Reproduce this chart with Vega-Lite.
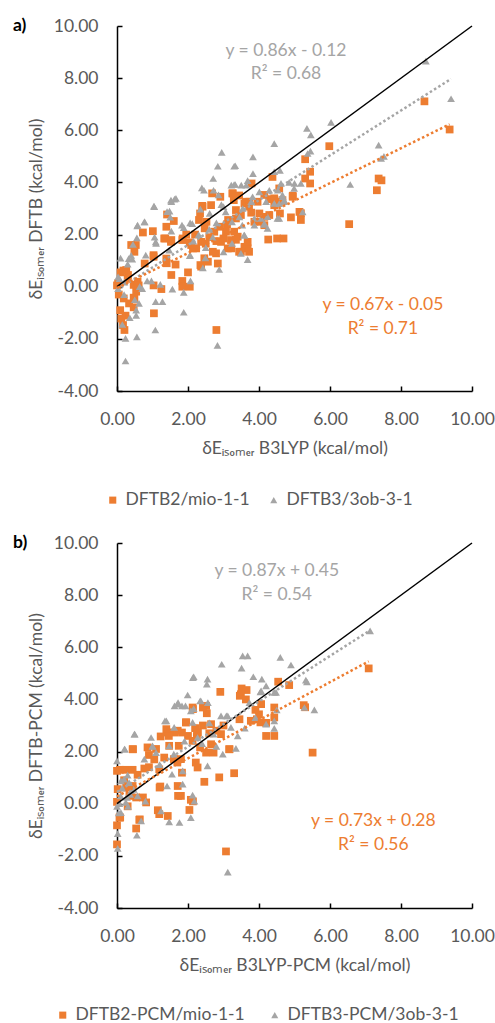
{
  "$schema": "https://vega.github.io/schema/vega-lite/v6.json",
  "padding": {"left": 12, "top": 17, "right": 0, "bottom": 0},
  "spacing": 25,
  "config": {
    "font": "Lato",
    "view": {"stroke": null},
    "axis": {
      "grid": false,
      "domainColor": "black",
      "domainWidth": 1.5,
      "tickColor": "black",
      "tickWidth": 1.5,
      "tickSize": -5,
      "labelFont": "Lato",
      "labelFontSize": 17.5,
      "labelColor": "#595959",
      "labelFlush": false,
      "labelOverlap": false,
      "titleFont": "Lato",
      "titleFontSize": 17.5,
      "titleFontWeight": "normal",
      "titleColor": "#595959"
    },
    "axisX": {"labelPadding": 24, "titlePadding": 12},
    "axisY": {"labelPadding": 24, "titlePadding": 8},
    "legend": {
      "title": null,
      "orient": "none",
      "direction": "horizontal",
      "labelFont": "Lato",
      "labelFontSize": 17.5,
      "labelColor": "#595959",
      "labelLimit": 0,
      "symbolSize": 50,
      "symbolStrokeWidth": 0,
      "labelOffset": 4
    }
  },
  "resolve": {
    "scale": {"color": "independent", "shape": "independent"},
    "legend": {"color": "independent", "shape": "independent"}
  },
  "datasets": {
    "a": [
      {"s":"DFTB2/mio-1-1","x":8.66,"y":7.11},{"s":"DFTB2/mio-1-1","x":9.37,"y":6.03},{"s":"DFTB2/mio-1-1","x":5.98,"y":5.39},{"s":"DFTB2/mio-1-1","x":5.30,"y":4.89},{"s":"DFTB2/mio-1-1","x":5.44,"y":4.41},{"s":"DFTB2/mio-1-1","x":5.30,"y":4.15},{"s":"DFTB2/mio-1-1","x":5.44,"y":3.96},{"s":"DFTB2/mio-1-1","x":7.37,"y":4.15},{"s":"DFTB2/mio-1-1","x":7.45,"y":4.08},{"s":"DFTB2/mio-1-1","x":7.32,"y":3.70},{"s":"DFTB2/mio-1-1","x":6.54,"y":2.40},{"s":"DFTB2/mio-1-1","x":4.38,"y":4.21},{"s":"DFTB2/mio-1-1","x":3.79,"y":3.96},{"s":"DFTB2/mio-1-1","x":3.26,"y":3.58},{"s":"DFTB2/mio-1-1","x":3.59,"y":3.19},{"s":"DFTB2/mio-1-1","x":3.73,"y":3.26},{"s":"DFTB2/mio-1-1","x":4.29,"y":3.36},{"s":"DFTB2/mio-1-1","x":4.43,"y":3.39},{"s":"DFTB2/mio-1-1","x":4.62,"y":3.26},{"s":"DFTB2/mio-1-1","x":4.95,"y":3.49},{"s":"DFTB2/mio-1-1","x":4.01,"y":2.81},{"s":"DFTB2/mio-1-1","x":4.15,"y":2.68},{"s":"DFTB2/mio-1-1","x":3.78,"y":2.84},{"s":"DFTB2/mio-1-1","x":4.59,"y":2.81},{"s":"DFTB2/mio-1-1","x":5.14,"y":2.87},{"s":"DFTB2/mio-1-1","x":4.90,"y":2.66},{"s":"DFTB2/mio-1-1","x":5.18,"y":2.56},{"s":"DFTB2/mio-1-1","x":4.06,"y":2.49},{"s":"DFTB2/mio-1-1","x":4.15,"y":2.36},{"s":"DFTB2/mio-1-1","x":4.26,"y":1.81},{"s":"DFTB2/mio-1-1","x":4.51,"y":1.85},{"s":"DFTB2/mio-1-1","x":4.69,"y":1.85},{"s":"DFTB2/mio-1-1","x":3.35,"y":2.62},{"s":"DFTB2/mio-1-1","x":3.40,"y":1.92},{"s":"DFTB2/mio-1-1","x":3.59,"y":1.53},{"s":"DFTB2/mio-1-1","x":3.68,"y":1.47},{"s":"DFTB2/mio-1-1","x":5.18,"y":2.82},{"s":"DFTB2/mio-1-1","x":4.95,"y":3.45},{"s":"DFTB2/mio-1-1","x":2.40,"y":3.10},{"s":"DFTB2/mio-1-1","x":2.31,"y":2.56},{"s":"DFTB2/mio-1-1","x":2.68,"y":3.58},{"s":"DFTB2/mio-1-1","x":2.91,"y":3.45},{"s":"DFTB2/mio-1-1","x":3.25,"y":3.58},{"s":"DFTB2/mio-1-1","x":3.29,"y":3.32},{"s":"DFTB2/mio-1-1","x":3.44,"y":3.50},{"s":"DFTB2/mio-1-1","x":2.47,"y":2.24},{"s":"DFTB2/mio-1-1","x":3.13,"y":2.56},{"s":"DFTB2/mio-1-1","x":1.85,"y":1.85},{"s":"DFTB2/mio-1-1","x":2.09,"y":1.60},{"s":"DFTB2/mio-1-1","x":2.23,"y":1.47},{"s":"DFTB2/mio-1-1","x":2.37,"y":1.72},{"s":"DFTB2/mio-1-1","x":2.41,"y":3.07},{"s":"DFTB2/mio-1-1","x":2.34,"y":2.81},{"s":"DFTB2/mio-1-1","x":2.52,"y":2.49},{"s":"DFTB2/mio-1-1","x":2.74,"y":2.11},{"s":"DFTB2/mio-1-1","x":2.79,"y":1.28},{"s":"DFTB2/mio-1-1","x":2.93,"y":1.72},{"s":"DFTB2/mio-1-1","x":3.07,"y":2.11},{"s":"DFTB2/mio-1-1","x":3.12,"y":1.47},{"s":"DFTB2/mio-1-1","x":3.35,"y":2.94},{"s":"DFTB2/mio-1-1","x":3.49,"y":2.75},{"s":"DFTB2/mio-1-1","x":3.63,"y":3.26},{"s":"DFTB2/mio-1-1","x":3.68,"y":1.72},{"s":"DFTB2/mio-1-1","x":3.72,"y":1.34},{"s":"DFTB2/mio-1-1","x":3.49,"y":1.34},{"s":"DFTB2/mio-1-1","x":3.72,"y":3.07},{"s":"DFTB2/mio-1-1","x":3.87,"y":2.49},{"s":"DFTB2/mio-1-1","x":3.96,"y":3.26},{"s":"DFTB2/mio-1-1","x":4.15,"y":3.52},{"s":"DFTB2/mio-1-1","x":4.29,"y":2.75},{"s":"DFTB2/mio-1-1","x":4.43,"y":3.13},{"s":"DFTB2/mio-1-1","x":4.57,"y":3.77},{"s":"DFTB2/mio-1-1","x":4.66,"y":3.32},{"s":"DFTB2/mio-1-1","x":3.21,"y":1.79},{"s":"DFTB2/mio-1-1","x":3.30,"y":2.11},{"s":"DFTB2/mio-1-1","x":2.46,"y":1.09},{"s":"DFTB2/mio-1-1","x":2.37,"y":0.77},{"s":"DFTB2/mio-1-1","x":2.56,"y":0.96},{"s":"DFTB2/mio-1-1","x":2.65,"y":3.13},{"s":"DFTB2/mio-1-1","x":2.84,"y":0.89},{"s":"DFTB2/mio-1-1","x":2.70,"y":1.34},{"s":"DFTB2/mio-1-1","x":3.22,"y":1.47},{"s":"DFTB2/mio-1-1","x":3.44,"y":1.34},{"s":"DFTB2/mio-1-1","x":2.14,"y":1.47},{"s":"DFTB2/mio-1-1","x":2.35,"y":0.83},{"s":"DFTB2/mio-1-1","x":2.60,"y":1.90},{"s":"DFTB2/mio-1-1","x":2.80,"y":1.75},{"s":"DFTB2/mio-1-1","x":3.00,"y":1.85},{"s":"DFTB2/mio-1-1","x":2.50,"y":1.65},{"s":"DFTB2/mio-1-1","x":2.90,"y":2.30},{"s":"DFTB2/mio-1-1","x":3.10,"y":2.40},{"s":"DFTB2/mio-1-1","x":3.35,"y":1.80},{"s":"DFTB2/mio-1-1","x":2.20,"y":2.00},{"s":"DFTB2/mio-1-1","x":2.05,"y":1.70},{"s":"DFTB2/mio-1-1","x":1.95,"y":2.00},{"s":"DFTB2/mio-1-1","x":0.53,"y":1.60},{"s":"DFTB2/mio-1-1","x":0.73,"y":2.08},{"s":"DFTB2/mio-1-1","x":1.01,"y":2.13},{"s":"DFTB2/mio-1-1","x":1.39,"y":2.30},{"s":"DFTB2/mio-1-1","x":1.60,"y":2.52},{"s":"DFTB2/mio-1-1","x":1.36,"y":1.85},{"s":"DFTB2/mio-1-1","x":1.53,"y":1.79},{"s":"DFTB2/mio-1-1","x":1.84,"y":1.79},{"s":"DFTB2/mio-1-1","x":1.41,"y":2.77},{"s":"DFTB2/mio-1-1","x":0.40,"y":1.60},{"s":"DFTB2/mio-1-1","x":1.03,"y":1.21},{"s":"DFTB2/mio-1-1","x":0.78,"y":0.89},{"s":"DFTB2/mio-1-1","x":0.26,"y":0.64},{"s":"DFTB2/mio-1-1","x":0.31,"y":0.45},{"s":"DFTB2/mio-1-1","x":0.03,"y":0.13},{"s":"DFTB2/mio-1-1","x":0.47,"y":0.07},{"s":"DFTB2/mio-1-1","x":0.54,"y":-0.19},{"s":"DFTB2/mio-1-1","x":0.19,"y":-0.45},{"s":"DFTB2/mio-1-1","x":0.34,"y":-0.64},{"s":"DFTB2/mio-1-1","x":0.47,"y":-0.42},{"s":"DFTB2/mio-1-1","x":0.09,"y":-0.90},{"s":"DFTB2/mio-1-1","x":0.24,"y":-1.11},{"s":"DFTB2/mio-1-1","x":0.17,"y":-1.47},{"s":"DFTB2/mio-1-1","x":0.21,"y":-1.66},{"s":"DFTB2/mio-1-1","x":1.04,"y":-1.02},{"s":"DFTB2/mio-1-1","x":1.53,"y":0.45},{"s":"DFTB2/mio-1-1","x":2.00,"y":0.55},{"s":"DFTB2/mio-1-1","x":1.84,"y":0.22},{"s":"DFTB2/mio-1-1","x":1.84,"y":0.00},{"s":"DFTB2/mio-1-1","x":2.05,"y":0.00},{"s":"DFTB2/mio-1-1","x":1.25,"y":-0.09},{"s":"DFTB2/mio-1-1","x":2.80,"y":-1.66},{"s":"DFTB2/mio-1-1","x":1.39,"y":1.08},{"s":"DFTB2/mio-1-1","x":1.65,"y":0.85},{"s":"DFTB2/mio-1-1","x":0.10,"y":0.55},{"s":"DFTB2/mio-1-1","x":0.18,"y":0.62},{"s":"DFTB2/mio-1-1","x":0.58,"y":0.19},{"s":"DFTB2/mio-1-1","x":0.61,"y":0.05},{"s":"DFTB2/mio-1-1","x":1.03,"y":0.05},{"s":"DFTB2/mio-1-1","x":0.49,"y":1.34},{"s":"DFTB2/mio-1-1","x":0.00,"y":0.05},{"s":"DFTB2/mio-1-1","x":1.03,"y":1.15},{"s":"DFTB2/mio-1-1","x":1.33,"y":1.85},{"s":"DFTB2/mio-1-1","x":1.52,"y":1.72},{"s":"DFTB2/mio-1-1","x":1.40,"y":0.90},{"s":"DFTB2/mio-1-1","x":0.47,"y":-0.79},{"s":"DFTB2/mio-1-1","x":0.49,"y":-0.45},{"s":"DFTB2/mio-1-1","x":0.12,"y":-1.22},{"s":"DFTB2/mio-1-1","x":0.05,"y":-0.30},{"s":"DFTB2/mio-1-1","x":0.30,"y":0.30},
      {"s":"DFTB3/3ob-3-1","x":8.70,"y":8.65},{"s":"DFTB3/3ob-3-1","x":9.41,"y":7.21},{"s":"DFTB3/3ob-3-1","x":5.35,"y":6.07},{"s":"DFTB3/3ob-3-1","x":5.46,"y":5.82},{"s":"DFTB3/3ob-3-1","x":6.03,"y":6.30},{"s":"DFTB3/3ob-3-1","x":4.43,"y":5.49},{"s":"DFTB3/3ob-3-1","x":2.95,"y":5.15},{"s":"DFTB3/3ob-3-1","x":3.83,"y":4.98},{"s":"DFTB3/3ob-3-1","x":5.37,"y":5.11},{"s":"DFTB3/3ob-3-1","x":5.45,"y":5.20},{"s":"DFTB3/3ob-3-1","x":7.37,"y":5.43},{"s":"DFTB3/3ob-3-1","x":7.44,"y":4.92},{"s":"DFTB3/3ob-3-1","x":7.52,"y":5.00},{"s":"DFTB3/3ob-3-1","x":2.84,"y":4.62},{"s":"DFTB3/3ob-3-1","x":3.30,"y":4.62},{"s":"DFTB3/3ob-3-1","x":3.83,"y":4.34},{"s":"DFTB3/3ob-3-1","x":2.71,"y":4.15},{"s":"DFTB3/3ob-3-1","x":4.43,"y":4.41},{"s":"DFTB3/3ob-3-1","x":4.59,"y":4.46},{"s":"DFTB3/3ob-3-1","x":6.57,"y":3.92},{"s":"DFTB3/3ob-3-1","x":5.18,"y":3.96},{"s":"DFTB3/3ob-3-1","x":5.00,"y":3.96},{"s":"DFTB3/3ob-3-1","x":2.39,"y":3.79},{"s":"DFTB3/3ob-3-1","x":3.30,"y":3.92},{"s":"DFTB3/3ob-3-1","x":3.68,"y":4.07},{"s":"DFTB3/3ob-3-1","x":3.33,"y":4.64},{"s":"DFTB3/3ob-3-1","x":3.33,"y":3.92},{"s":"DFTB3/3ob-3-1","x":3.64,"y":3.90},{"s":"DFTB3/3ob-3-1","x":4.62,"y":3.96},{"s":"DFTB3/3ob-3-1","x":4.85,"y":4.00},{"s":"DFTB3/3ob-3-1","x":4.99,"y":3.77},{"s":"DFTB3/3ob-3-1","x":4.01,"y":3.64},{"s":"DFTB3/3ob-3-1","x":4.29,"y":3.70},{"s":"DFTB3/3ob-3-1","x":4.53,"y":3.70},{"s":"DFTB3/3ob-3-1","x":4.20,"y":3.26},{"s":"DFTB3/3ob-3-1","x":4.43,"y":3.20},{"s":"DFTB3/3ob-3-1","x":4.67,"y":3.45},{"s":"DFTB3/3ob-3-1","x":4.71,"y":3.26},{"s":"DFTB3/3ob-3-1","x":3.82,"y":3.45},{"s":"DFTB3/3ob-3-1","x":3.78,"y":3.26},{"s":"DFTB3/3ob-3-1","x":3.54,"y":3.00},{"s":"DFTB3/3ob-3-1","x":3.45,"y":2.68},{"s":"DFTB3/3ob-3-1","x":3.87,"y":2.62},{"s":"DFTB3/3ob-3-1","x":4.15,"y":2.39},{"s":"DFTB3/3ob-3-1","x":4.57,"y":2.62},{"s":"DFTB3/3ob-3-1","x":5.23,"y":2.87},{"s":"DFTB3/3ob-3-1","x":3.59,"y":1.98},{"s":"DFTB3/3ob-3-1","x":2.45,"y":3.70},{"s":"DFTB3/3ob-3-1","x":2.72,"y":3.70},{"s":"DFTB3/3ob-3-1","x":2.86,"y":3.52},{"s":"DFTB3/3ob-3-1","x":1.04,"y":3.09},{"s":"DFTB3/3ob-3-1","x":1.53,"y":3.26},{"s":"DFTB3/3ob-3-1","x":1.62,"y":3.36},{"s":"DFTB3/3ob-3-1","x":1.48,"y":2.90},{"s":"DFTB3/3ob-3-1","x":1.50,"y":2.67},{"s":"DFTB3/3ob-3-1","x":0.78,"y":2.49},{"s":"DFTB3/3ob-3-1","x":0.57,"y":2.33},{"s":"DFTB3/3ob-3-1","x":1.88,"y":2.27},{"s":"DFTB3/3ob-3-1","x":1.53,"y":2.13},{"s":"DFTB3/3ob-3-1","x":2.35,"y":2.98},{"s":"DFTB3/3ob-3-1","x":2.12,"y":2.42},{"s":"DFTB3/3ob-3-1","x":2.61,"y":2.81},{"s":"DFTB3/3ob-3-1","x":2.94,"y":3.15},{"s":"DFTB3/3ob-3-1","x":3.06,"y":2.87},{"s":"DFTB3/3ob-3-1","x":3.22,"y":3.90},{"s":"DFTB3/3ob-3-1","x":3.50,"y":3.90},{"s":"DFTB3/3ob-3-1","x":1.09,"y":1.72},{"s":"DFTB3/3ob-3-1","x":0.45,"y":1.62},{"s":"DFTB3/3ob-3-1","x":2.42,"y":0.72},{"s":"DFTB3/3ob-3-1","x":2.49,"y":1.11},{"s":"DFTB3/3ob-3-1","x":3.00,"y":1.34},{"s":"DFTB3/3ob-3-1","x":3.00,"y":3.07},{"s":"DFTB3/3ob-3-1","x":3.24,"y":2.49},{"s":"DFTB3/3ob-3-1","x":3.24,"y":1.66},{"s":"DFTB3/3ob-3-1","x":3.87,"y":2.36},{"s":"DFTB3/3ob-3-1","x":4.06,"y":2.62},{"s":"DFTB3/3ob-3-1","x":4.15,"y":2.43},{"s":"DFTB3/3ob-3-1","x":4.24,"y":2.24},{"s":"DFTB3/3ob-3-1","x":4.24,"y":2.69},{"s":"DFTB3/3ob-3-1","x":4.52,"y":2.62},{"s":"DFTB3/3ob-3-1","x":4.57,"y":3.19},{"s":"DFTB3/3ob-3-1","x":4.71,"y":3.32},{"s":"DFTB3/3ob-3-1","x":4.66,"y":3.52},{"s":"DFTB3/3ob-3-1","x":3.49,"y":1.28},{"s":"DFTB3/3ob-3-1","x":3.53,"y":2.36},{"s":"DFTB3/3ob-3-1","x":3.58,"y":1.98},{"s":"DFTB3/3ob-3-1","x":3.68,"y":1.04},{"s":"DFTB3/3ob-3-1","x":2.88,"y":0.66},{"s":"DFTB3/3ob-3-1","x":2.60,"y":2.20},{"s":"DFTB3/3ob-3-1","x":2.80,"y":2.45},{"s":"DFTB3/3ob-3-1","x":2.30,"y":2.00},{"s":"DFTB3/3ob-3-1","x":2.70,"y":1.90},{"s":"DFTB3/3ob-3-1","x":2.15,"y":1.75},{"s":"DFTB3/3ob-3-1","x":2.50,"y":1.50},{"s":"DFTB3/3ob-3-1","x":0.24,"y":-2.85},{"s":"DFTB3/3ob-3-1","x":0.56,"y":-1.92},{"s":"DFTB3/3ob-3-1","x":1.08,"y":-1.66},{"s":"DFTB3/3ob-3-1","x":2.83,"y":-2.25},{"s":"DFTB3/3ob-3-1","x":1.88,"y":-0.98},{"s":"DFTB3/3ob-3-1","x":0.24,"y":-1.98},{"s":"DFTB3/3ob-3-1","x":0.15,"y":-1.45},{"s":"DFTB3/3ob-3-1","x":0.36,"y":-1.19},{"s":"DFTB3/3ob-3-1","x":0.54,"y":-1.10},{"s":"DFTB3/3ob-3-1","x":0.54,"y":-0.90},{"s":"DFTB3/3ob-3-1","x":0.50,"y":-0.50},{"s":"DFTB3/3ob-3-1","x":0.62,"y":-0.64},{"s":"DFTB3/3ob-3-1","x":1.09,"y":-0.57},{"s":"DFTB3/3ob-3-1","x":1.28,"y":-0.57},{"s":"DFTB3/3ob-3-1","x":0.03,"y":0.38},{"s":"DFTB3/3ob-3-1","x":0.03,"y":-0.07},{"s":"DFTB3/3ob-3-1","x":0.20,"y":-0.30},{"s":"DFTB3/3ob-3-1","x":0.64,"y":0.00},{"s":"DFTB3/3ob-3-1","x":0.71,"y":-0.07},{"s":"DFTB3/3ob-3-1","x":0.85,"y":0.22},{"s":"DFTB3/3ob-3-1","x":0.97,"y":0.22},{"s":"DFTB3/3ob-3-1","x":1.22,"y":0.09},{"s":"DFTB3/3ob-3-1","x":1.56,"y":-0.09},{"s":"DFTB3/3ob-3-1","x":1.88,"y":-0.22},{"s":"DFTB3/3ob-3-1","x":2.07,"y":0.22},{"s":"DFTB3/3ob-3-1","x":0.10,"y":1.10},{"s":"DFTB3/3ob-3-1","x":0.33,"y":1.08},{"s":"DFTB3/3ob-3-1","x":0.40,"y":1.20},{"s":"DFTB3/3ob-3-1","x":0.81,"y":1.21},{"s":"DFTB3/3ob-3-1","x":1.06,"y":1.90},{"s":"DFTB3/3ob-3-1","x":0.56,"y":1.87},{"s":"DFTB3/3ob-3-1","x":2.05,"y":1.19},{"s":"DFTB3/3ob-3-1","x":0.58,"y":2.36},{"s":"DFTB3/3ob-3-1","x":0.77,"y":2.49},{"s":"DFTB3/3ob-3-1","x":1.05,"y":3.07},{"s":"DFTB3/3ob-3-1","x":1.52,"y":3.32},{"s":"DFTB3/3ob-3-1","x":1.66,"y":3.39},{"s":"DFTB3/3ob-3-1","x":1.41,"y":2.88},{"s":"DFTB3/3ob-3-1","x":1.83,"y":2.36},{"s":"DFTB3/3ob-3-1","x":2.06,"y":2.45},{"s":"DFTB3/3ob-3-1","x":2.06,"y":1.21},{"s":"DFTB3/3ob-3-1","x":1.10,"y":1.66},{"s":"DFTB3/3ob-3-1","x":1.47,"y":1.40},{"s":"DFTB3/3ob-3-1","x":0.30,"y":0.87},{"s":"DFTB3/3ob-3-1","x":0.43,"y":1.06},{"s":"DFTB3/3ob-3-1","x":0.21,"y":0.18},{"s":"DFTB3/3ob-3-1","x":0.07,"y":0.31}
    ],
    "b": [
      {"s":"DFTB2-PCM/mio-1-1","x":7.09,"y":5.19},{"s":"DFTB2-PCM/mio-1-1","x":4.54,"y":4.68},{"s":"DFTB2-PCM/mio-1-1","x":4.85,"y":4.55},{"s":"DFTB2-PCM/mio-1-1","x":2.91,"y":4.29},{"s":"DFTB2-PCM/mio-1-1","x":3.51,"y":4.42},{"s":"DFTB2-PCM/mio-1-1","x":3.65,"y":4.36},{"s":"DFTB2-PCM/mio-1-1","x":3.46,"y":4.14},{"s":"DFTB2-PCM/mio-1-1","x":5.51,"y":1.96},{"s":"DFTB2-PCM/mio-1-1","x":5.26,"y":3.78},{"s":"DFTB2-PCM/mio-1-1","x":5.30,"y":3.70},{"s":"DFTB2-PCM/mio-1-1","x":3.07,"y":-1.83},{"s":"DFTB2-PCM/mio-1-1","x":2.88,"y":1.01},{"s":"DFTB2-PCM/mio-1-1","x":3.30,"y":1.17},{"s":"DFTB2-PCM/mio-1-1","x":2.46,"y":0.84},{"s":"DFTB2-PCM/mio-1-1","x":2.04,"y":-0.24},{"s":"DFTB2-PCM/mio-1-1","x":2.08,"y":0.15},{"s":"DFTB2-PCM/mio-1-1","x":1.80,"y":0.30},{"s":"DFTB2-PCM/mio-1-1","x":1.71,"y":0.68},{"s":"DFTB2-PCM/mio-1-1","x":1.43,"y":-0.47},{"s":"DFTB2-PCM/mio-1-1","x":1.19,"y":-0.40},{"s":"DFTB2-PCM/mio-1-1","x":1.15,"y":-0.25},{"s":"DFTB2-PCM/mio-1-1","x":0.00,"y":-0.83},{"s":"DFTB2-PCM/mio-1-1","x":0.00,"y":-1.56},{"s":"DFTB2-PCM/mio-1-1","x":0.00,"y":0.07},{"s":"DFTB2-PCM/mio-1-1","x":0.07,"y":-0.53},{"s":"DFTB2-PCM/mio-1-1","x":0.54,"y":-0.95},{"s":"DFTB2-PCM/mio-1-1","x":0.63,"y":-0.62},{"s":"DFTB2-PCM/mio-1-1","x":0.02,"y":0.56},{"s":"DFTB2-PCM/mio-1-1","x":0.00,"y":1.26},{"s":"DFTB2-PCM/mio-1-1","x":0.08,"y":1.30},{"s":"DFTB2-PCM/mio-1-1","x":0.24,"y":1.30},{"s":"DFTB2-PCM/mio-1-1","x":0.44,"y":2.09},{"s":"DFTB2-PCM/mio-1-1","x":0.44,"y":1.30},{"s":"DFTB2-PCM/mio-1-1","x":0.58,"y":1.11},{"s":"DFTB2-PCM/mio-1-1","x":0.86,"y":2.16},{"s":"DFTB2-PCM/mio-1-1","x":0.90,"y":1.87},{"s":"DFTB2-PCM/mio-1-1","x":0.77,"y":1.35},{"s":"DFTB2-PCM/mio-1-1","x":0.54,"y":0.24},{"s":"DFTB2-PCM/mio-1-1","x":0.73,"y":0.24},{"s":"DFTB2-PCM/mio-1-1","x":0.82,"y":0.05},{"s":"DFTB2-PCM/mio-1-1","x":0.35,"y":0.30},{"s":"DFTB2-PCM/mio-1-1","x":0.26,"y":0.62},{"s":"DFTB2-PCM/mio-1-1","x":0.44,"y":0.68},{"s":"DFTB2-PCM/mio-1-1","x":0.30,"y":-0.10},{"s":"DFTB2-PCM/mio-1-1","x":1.19,"y":1.32},{"s":"DFTB2-PCM/mio-1-1","x":1.22,"y":0.66},{"s":"DFTB2-PCM/mio-1-1","x":1.33,"y":1.77},{"s":"DFTB2-PCM/mio-1-1","x":1.47,"y":2.22},{"s":"DFTB2-PCM/mio-1-1","x":1.43,"y":2.73},{"s":"DFTB2-PCM/mio-1-1","x":1.61,"y":2.73},{"s":"DFTB2-PCM/mio-1-1","x":1.71,"y":2.80},{"s":"DFTB2-PCM/mio-1-1","x":1.83,"y":2.73},{"s":"DFTB2-PCM/mio-1-1","x":1.80,"y":1.71},{"s":"DFTB2-PCM/mio-1-1","x":1.74,"y":2.22},{"s":"DFTB2-PCM/mio-1-1","x":1.94,"y":3.12},{"s":"DFTB2-PCM/mio-1-1","x":2.13,"y":3.69},{"s":"DFTB2-PCM/mio-1-1","x":2.51,"y":3.75},{"s":"DFTB2-PCM/mio-1-1","x":2.53,"y":3.47},{"s":"DFTB2-PCM/mio-1-1","x":2.42,"y":3.00},{"s":"DFTB2-PCM/mio-1-1","x":2.65,"y":3.05},{"s":"DFTB2-PCM/mio-1-1","x":2.28,"y":2.73},{"s":"DFTB2-PCM/mio-1-1","x":2.13,"y":2.41},{"s":"DFTB2-PCM/mio-1-1","x":2.34,"y":2.16},{"s":"DFTB2-PCM/mio-1-1","x":2.27,"y":1.39},{"s":"DFTB2-PCM/mio-1-1","x":2.22,"y":1.58},{"s":"DFTB2-PCM/mio-1-1","x":2.51,"y":1.96},{"s":"DFTB2-PCM/mio-1-1","x":2.72,"y":1.96},{"s":"DFTB2-PCM/mio-1-1","x":2.65,"y":2.28},{"s":"DFTB2-PCM/mio-1-1","x":2.93,"y":2.67},{"s":"DFTB2-PCM/mio-1-1","x":3.16,"y":2.09},{"s":"DFTB2-PCM/mio-1-1","x":3.45,"y":3.24},{"s":"DFTB2-PCM/mio-1-1","x":3.77,"y":3.18},{"s":"DFTB2-PCM/mio-1-1","x":3.94,"y":3.24},{"s":"DFTB2-PCM/mio-1-1","x":4.00,"y":3.43},{"s":"DFTB2-PCM/mio-1-1","x":4.04,"y":3.12},{"s":"DFTB2-PCM/mio-1-1","x":4.43,"y":3.69},{"s":"DFTB2-PCM/mio-1-1","x":4.43,"y":3.31},{"s":"DFTB2-PCM/mio-1-1","x":4.20,"y":2.60},{"s":"DFTB2-PCM/mio-1-1","x":4.43,"y":2.60},{"s":"DFTB2-PCM/mio-1-1","x":4.06,"y":3.82},{"s":"DFTB2-PCM/mio-1-1","x":3.49,"y":4.20},{"s":"DFTB2-PCM/mio-1-1","x":3.63,"y":4.00},{"s":"DFTB2-PCM/mio-1-1","x":2.14,"y":3.63},{"s":"DFTB2-PCM/mio-1-1","x":2.42,"y":3.69},{"s":"DFTB2-PCM/mio-1-1","x":1.95,"y":3.12},{"s":"DFTB2-PCM/mio-1-1","x":1.39,"y":2.86},{"s":"DFTB2-PCM/mio-1-1","x":1.23,"y":2.58},{"s":"DFTB2-PCM/mio-1-1","x":1.46,"y":2.60},{"s":"DFTB2-PCM/mio-1-1","x":2.25,"y":2.60},{"s":"DFTB2-PCM/mio-1-1","x":0.45,"y":2.09},{"s":"DFTB2-PCM/mio-1-1","x":3.17,"y":2.09},{"s":"DFTB2-PCM/mio-1-1","x":1.60,"y":1.71},{"s":"DFTB2-PCM/mio-1-1","x":1.70,"y":1.58},{"s":"DFTB2-PCM/mio-1-1","x":1.05,"y":1.70},{"s":"DFTB2-PCM/mio-1-1","x":1.20,"y":0.62},{"s":"DFTB2-PCM/mio-1-1","x":1.72,"y":0.30},{"s":"DFTB2-PCM/mio-1-1","x":0.64,"y":-0.60},{"s":"DFTB2-PCM/mio-1-1","x":0.09,"y":-0.53},{"s":"DFTB2-PCM/mio-1-1","x":2.14,"y":0.09},{"s":"DFTB2-PCM/mio-1-1","x":1.83,"y":1.19},{"s":"DFTB2-PCM/mio-1-1","x":2.00,"y":2.60},{"s":"DFTB2-PCM/mio-1-1","x":2.60,"y":2.70},{"s":"DFTB2-PCM/mio-1-1","x":2.80,"y":2.80},{"s":"DFTB2-PCM/mio-1-1","x":3.00,"y":3.00},{"s":"DFTB2-PCM/mio-1-1","x":2.20,"y":2.90},{"s":"DFTB2-PCM/mio-1-1","x":3.90,"y":3.60},{"s":"DFTB2-PCM/mio-1-1","x":4.20,"y":3.10},{"s":"DFTB2-PCM/mio-1-1","x":1.10,"y":2.10},{"s":"DFTB2-PCM/mio-1-1","x":0.90,"y":1.40},{"s":"DFTB2-PCM/mio-1-1","x":0.20,"y":0.90},
      {"s":"DFTB3-PCM/3ob-3-1","x":7.13,"y":6.63},{"s":"DFTB3-PCM/3ob-3-1","x":3.54,"y":5.67},{"s":"DFTB3-PCM/3ob-3-1","x":3.68,"y":5.67},{"s":"DFTB3-PCM/3ob-3-1","x":4.60,"y":5.61},{"s":"DFTB3-PCM/3ob-3-1","x":2.95,"y":5.35},{"s":"DFTB3-PCM/3ob-3-1","x":4.90,"y":5.32},{"s":"DFTB3-PCM/3ob-3-1","x":2.16,"y":4.87},{"s":"DFTB3-PCM/3ob-3-1","x":2.55,"y":4.78},{"s":"DFTB3-PCM/3ob-3-1","x":3.51,"y":5.20},{"s":"DFTB3-PCM/3ob-3-1","x":3.84,"y":4.87},{"s":"DFTB3-PCM/3ob-3-1","x":4.08,"y":4.78},{"s":"DFTB3-PCM/3ob-3-1","x":5.32,"y":4.74},{"s":"DFTB3-PCM/3ob-3-1","x":5.35,"y":4.67},{"s":"DFTB3-PCM/3ob-3-1","x":2.53,"y":4.59},{"s":"DFTB3-PCM/3ob-3-1","x":4.20,"y":4.52},{"s":"DFTB3-PCM/3ob-3-1","x":4.04,"y":4.29},{"s":"DFTB3-PCM/3ob-3-1","x":4.48,"y":4.27},{"s":"DFTB3-PCM/3ob-3-1","x":1.99,"y":4.17},{"s":"DFTB3-PCM/3ob-3-1","x":2.14,"y":4.84},{"s":"DFTB3-PCM/3ob-3-1","x":2.36,"y":3.95},{"s":"DFTB3-PCM/3ob-3-1","x":2.56,"y":3.88},{"s":"DFTB3-PCM/3ob-3-1","x":1.72,"y":3.88},{"s":"DFTB3-PCM/3ob-3-1","x":1.93,"y":3.75},{"s":"DFTB3-PCM/3ob-3-1","x":2.16,"y":3.65},{"s":"DFTB3-PCM/3ob-3-1","x":1.39,"y":3.18},{"s":"DFTB3-PCM/3ob-3-1","x":0.50,"y":2.67},{"s":"DFTB3-PCM/3ob-3-1","x":0.22,"y":2.09},{"s":"DFTB3-PCM/3ob-3-1","x":1.00,"y":2.20},{"s":"DFTB3-PCM/3ob-3-1","x":3.08,"y":3.37},{"s":"DFTB3-PCM/3ob-3-1","x":3.12,"y":-2.62},{"s":"DFTB3-PCM/3ob-3-1","x":2.08,"y":-0.53},{"s":"DFTB3-PCM/3ob-3-1","x":1.76,"y":-0.72},{"s":"DFTB3-PCM/3ob-3-1","x":1.47,"y":-0.70},{"s":"DFTB3-PCM/3ob-3-1","x":1.24,"y":-0.28},{"s":"DFTB3-PCM/3ob-3-1","x":2.13,"y":0.33},{"s":"DFTB3-PCM/3ob-3-1","x":2.18,"y":0.10},{"s":"DFTB3-PCM/3ob-3-1","x":1.85,"y":0.75},{"s":"DFTB3-PCM/3ob-3-1","x":1.85,"y":1.26},{"s":"DFTB3-PCM/3ob-3-1","x":1.41,"y":0.68},{"s":"DFTB3-PCM/3ob-3-1","x":1.55,"y":1.13},{"s":"DFTB3-PCM/3ob-3-1","x":0.56,"y":-1.21},{"s":"DFTB3-PCM/3ob-3-1","x":0.68,"y":-0.66},{"s":"DFTB3-PCM/3ob-3-1","x":0.02,"y":-1.15},{"s":"DFTB3-PCM/3ob-3-1","x":0.02,"y":-1.71},{"s":"DFTB3-PCM/3ob-3-1","x":0.11,"y":-0.34},{"s":"DFTB3-PCM/3ob-3-1","x":0.31,"y":-0.10},{"s":"DFTB3-PCM/3ob-3-1","x":0.07,"y":0.00},{"s":"DFTB3-PCM/3ob-3-1","x":0.00,"y":-0.10},{"s":"DFTB3-PCM/3ob-3-1","x":0.10,"y":0.30},{"s":"DFTB3-PCM/3ob-3-1","x":0.80,"y":0.10},{"s":"DFTB3-PCM/3ob-3-1","x":0.00,"y":1.64},{"s":"DFTB3-PCM/3ob-3-1","x":0.21,"y":2.09},{"s":"DFTB3-PCM/3ob-3-1","x":0.11,"y":0.88},{"s":"DFTB3-PCM/3ob-3-1","x":0.20,"y":0.94},{"s":"DFTB3-PCM/3ob-3-1","x":0.34,"y":0.81},{"s":"DFTB3-PCM/3ob-3-1","x":0.47,"y":0.55},{"s":"DFTB3-PCM/3ob-3-1","x":0.37,"y":0.36},{"s":"DFTB3-PCM/3ob-3-1","x":0.28,"y":0.24},{"s":"DFTB3-PCM/3ob-3-1","x":0.58,"y":0.30},{"s":"DFTB3-PCM/3ob-3-1","x":0.49,"y":2.67},{"s":"DFTB3-PCM/3ob-3-1","x":0.77,"y":1.71},{"s":"DFTB3-PCM/3ob-3-1","x":1.00,"y":2.22},{"s":"DFTB3-PCM/3ob-3-1","x":0.96,"y":2.54},{"s":"DFTB3-PCM/3ob-3-1","x":1.10,"y":1.96},{"s":"DFTB3-PCM/3ob-3-1","x":1.35,"y":3.18},{"s":"DFTB3-PCM/3ob-3-1","x":1.62,"y":3.75},{"s":"DFTB3-PCM/3ob-3-1","x":1.70,"y":3.82},{"s":"DFTB3-PCM/3ob-3-1","x":1.83,"y":3.75},{"s":"DFTB3-PCM/3ob-3-1","x":2.08,"y":3.56},{"s":"DFTB3-PCM/3ob-3-1","x":2.34,"y":3.94},{"s":"DFTB3-PCM/3ob-3-1","x":2.13,"y":3.12},{"s":"DFTB3-PCM/3ob-3-1","x":1.61,"y":2.93},{"s":"DFTB3-PCM/3ob-3-1","x":1.47,"y":2.22},{"s":"DFTB3-PCM/3ob-3-1","x":2.27,"y":2.54},{"s":"DFTB3-PCM/3ob-3-1","x":2.55,"y":1.45},{"s":"DFTB3-PCM/3ob-3-1","x":2.72,"y":2.67},{"s":"DFTB3-PCM/3ob-3-1","x":2.93,"y":3.37},{"s":"DFTB3-PCM/3ob-3-1","x":3.12,"y":3.37},{"s":"DFTB3-PCM/3ob-3-1","x":2.98,"y":1.90},{"s":"DFTB3-PCM/3ob-3-1","x":3.35,"y":2.12},{"s":"DFTB3-PCM/3ob-3-1","x":3.21,"y":2.93},{"s":"DFTB3-PCM/3ob-3-1","x":4.06,"y":4.33},{"s":"DFTB3-PCM/3ob-3-1","x":4.43,"y":4.27},{"s":"DFTB3-PCM/3ob-3-1","x":3.73,"y":3.88},{"s":"DFTB3-PCM/3ob-3-1","x":4.43,"y":3.18},{"s":"DFTB3-PCM/3ob-3-1","x":4.43,"y":2.89},{"s":"DFTB3-PCM/3ob-3-1","x":4.20,"y":3.05},{"s":"DFTB3-PCM/3ob-3-1","x":5.28,"y":3.69},{"s":"DFTB3-PCM/3ob-3-1","x":5.56,"y":3.60},{"s":"DFTB3-PCM/3ob-3-1","x":0.15,"y":0.60},{"s":"DFTB3-PCM/3ob-3-1","x":0.30,"y":1.10},{"s":"DFTB3-PCM/3ob-3-1","x":0.40,"y":0.50},{"s":"DFTB3-PCM/3ob-3-1","x":1.20,"y":1.50},{"s":"DFTB3-PCM/3ob-3-1","x":1.60,"y":1.90},{"s":"DFTB3-PCM/3ob-3-1","x":2.40,"y":2.30},{"s":"DFTB3-PCM/3ob-3-1","x":2.60,"y":3.10},{"s":"DFTB3-PCM/3ob-3-1","x":2.80,"y":2.20},{"s":"DFTB3-PCM/3ob-3-1","x":3.40,"y":2.60},{"s":"DFTB3-PCM/3ob-3-1","x":3.60,"y":2.90},{"s":"DFTB3-PCM/3ob-3-1","x":3.90,"y":3.30},{"s":"DFTB3-PCM/3ob-3-1","x":4.50,"y":3.60},{"s":"DFTB3-PCM/3ob-3-1","x":1.90,"y":2.40},{"s":"DFTB3-PCM/3ob-3-1","x":0.25,"y":0.05},{"s":"DFTB3-PCM/3ob-3-1","x":0.05,"y":-0.35}
    ]
  },
  "vconcat": [
    {
      "width": 355,
      "height": 365,
      "layer": [
        {
          "data": {"name": "a"},
          "mark": {"type": "point", "filled": true, "opacity": 1, "size": 60, "strokeWidth": 0},
          "encoding": {
            "x": {"field": "x", "type": "quantitative", "scale": {"domain": [0, 10], "nice": false},
                  "axis": {"values": [0, 2, 4, 6, 8, 10], "format": ".2f", "title": "δEᵢₛₒₘₑᵣ B3LYP (kcal/mol)"}},
            "y": {"field": "y", "type": "quantitative", "scale": {"domain": [-4, 10], "nice": false},
                  "axis": {"values": [-4, -2, 0, 2, 4, 6, 8, 10], "labelExpr": "replace(format(datum.value, '.2f'), '−', '-')", "title": "δEᵢₛₒₘₑᵣ DFTB (kcal/mol)"}},
            "color": {"field": "s", "type": "nominal", "scale": {"domain": ["DFTB2/mio-1-1", "DFTB3/3ob-3-1"], "range": ["#ED7D31", "#A5A5A5"]},
                      "legend": {"legendX": -13, "legendY": 465, "columnPadding": 15}},
            "shape": {"field": "s", "type": "nominal", "scale": {"domain": ["DFTB2/mio-1-1", "DFTB3/3ob-3-1"], "range": ["square", "triangle-up"]},
                      "legend": {"legendX": -13, "legendY": 465, "columnPadding": 15}}
          }
        },
        {
          "data": {"values": [{"x": 0, "y": 0}, {"x": 10, "y": 10}]},
          "mark": {"type": "line", "color": "black", "strokeWidth": 1.5},
          "encoding": {"x": {"field": "x", "type": "quantitative"}, "y": {"field": "y", "type": "quantitative"}}
        },
        {
          "data": {"values": [{"x": 0, "y": -0.12}, {"x": 9.41, "y": 7.97}]},
          "mark": {"type": "line", "color": "#A5A5A5", "strokeWidth": 2.5, "strokeDash": [2.5, 2.5]},
          "encoding": {"x": {"field": "x", "type": "quantitative"}, "y": {"field": "y", "type": "quantitative"}}
        },
        {
          "data": {"values": [{"x": 0, "y": -0.05}, {"x": 9.37, "y": 6.23}]},
          "mark": {"type": "line", "color": "#ED7D31", "strokeWidth": 2.5, "strokeDash": [2.5, 2.5]},
          "encoding": {"x": {"field": "x", "type": "quantitative"}, "y": {"field": "y", "type": "quantitative"}}
        },
        {
          "data": {"values": [{"x": 4.76, "y": 9.04, "t": "y = 0.86x - 0.12"}, {"x": 4.76, "y": 8.16, "t": "R² = 0.68"}]},
          "mark": {"type": "text", "color": "#A5A5A5", "fontSize": 17.5, "font": "Lato"},
          "encoding": {"x": {"field": "x", "type": "quantitative"}, "y": {"field": "y", "type": "quantitative"}, "text": {"field": "t"}}
        },
        {
          "data": {"values": [{"x": 7.49, "y": -0.70, "t": "y = 0.67x - 0.05"}, {"x": 7.49, "y": -1.62, "t": "R² = 0.71"}]},
          "mark": {"type": "text", "color": "#ED7D31", "fontSize": 17.5, "font": "Lato"},
          "encoding": {"x": {"field": "x", "type": "quantitative"}, "y": {"field": "y", "type": "quantitative"}, "text": {"field": "t"}}
        },
        {
          "data": {"values": [{"x": -2.93, "y": 10, "t": "a)"}]},
          "mark": {"type": "text", "color": "black", "fontSize": 17.5, "fontWeight": "bold", "font": "Lato", "align": "left"},
          "encoding": {"x": {"field": "x", "type": "quantitative"}, "y": {"field": "y", "type": "quantitative"}, "text": {"field": "t"}}
        }
      ]
    },
    {
      "width": 355,
      "height": 365,
      "layer": [
        {
          "data": {"name": "b"},
          "mark": {"type": "point", "filled": true, "opacity": 1, "size": 60, "strokeWidth": 0},
          "encoding": {
            "x": {"field": "x", "type": "quantitative", "scale": {"domain": [0, 10], "nice": false},
                  "axis": {"values": [0, 2, 4, 6, 8, 10], "format": ".2f", "title": "δEᵢₛₒₘₑᵣ B3LYP-PCM (kcal/mol)"}},
            "y": {"field": "y", "type": "quantitative", "scale": {"domain": [-4, 10], "nice": false},
                  "axis": {"values": [-4, -2, 0, 2, 4, 6, 8, 10], "labelExpr": "replace(format(datum.value, '.2f'), '−', '-')", "title": "δEᵢₛₒₘₑᵣ DFTB-PCM (kcal/mol)"}},
            "color": {"field": "s", "type": "nominal", "scale": {"domain": ["DFTB2-PCM/mio-1-1", "DFTB3-PCM/3ob-3-1"], "range": ["#ED7D31", "#A5A5A5"]},
                      "legend": {"legendX": -63, "legendY": 463, "columnPadding": 21}},
            "shape": {"field": "s", "type": "nominal", "scale": {"domain": ["DFTB2-PCM/mio-1-1", "DFTB3-PCM/3ob-3-1"], "range": ["square", "triangle-up"]},
                      "legend": {"legendX": -63, "legendY": 463, "columnPadding": 21}}
          }
        },
        {
          "data": {"values": [{"x": 0, "y": 0}, {"x": 10, "y": 10}]},
          "mark": {"type": "line", "color": "black", "strokeWidth": 1.5},
          "encoding": {"x": {"field": "x", "type": "quantitative"}, "y": {"field": "y", "type": "quantitative"}}
        },
        {
          "data": {"values": [{"x": 0, "y": 0.45}, {"x": 7.13, "y": 6.65}]},
          "mark": {"type": "line", "color": "#A5A5A5", "strokeWidth": 2.5, "strokeDash": [2.5, 2.5]},
          "encoding": {"x": {"field": "x", "type": "quantitative"}, "y": {"field": "y", "type": "quantitative"}}
        },
        {
          "data": {"values": [{"x": 0, "y": 0.28}, {"x": 7.09, "y": 5.46}]},
          "mark": {"type": "line", "color": "#ED7D31", "strokeWidth": 2.5, "strokeDash": [2.5, 2.5]},
          "encoding": {"x": {"field": "x", "type": "quantitative"}, "y": {"field": "y", "type": "quantitative"}}
        },
        {
          "data": {"values": [{"x": 4.50, "y": 8.94, "t": "y = 0.87x + 0.45"}, {"x": 4.50, "y": 8.00, "t": "R² = 0.54"}]},
          "mark": {"type": "text", "color": "#A5A5A5", "fontSize": 17.5, "font": "Lato"},
          "encoding": {"x": {"field": "x", "type": "quantitative"}, "y": {"field": "y", "type": "quantitative"}, "text": {"field": "t"}}
        },
        {
          "data": {"values": [{"x": 7.22, "y": -0.68, "t": "y = 0.73x + 0.28"}, {"x": 7.22, "y": -1.58, "t": "R² = 0.56"}]},
          "mark": {"type": "text", "color": "#ED7D31", "fontSize": 17.5, "font": "Lato"},
          "encoding": {"x": {"field": "x", "type": "quantitative"}, "y": {"field": "y", "type": "quantitative"}, "text": {"field": "t"}}
        },
        {
          "data": {"values": [{"x": -2.93, "y": 10, "t": "b)"}]},
          "mark": {"type": "text", "color": "black", "fontSize": 17.5, "fontWeight": "bold", "font": "Lato", "align": "left"},
          "encoding": {"x": {"field": "x", "type": "quantitative"}, "y": {"field": "y", "type": "quantitative"}, "text": {"field": "t"}}
        }
      ]
    }
  ]
}
